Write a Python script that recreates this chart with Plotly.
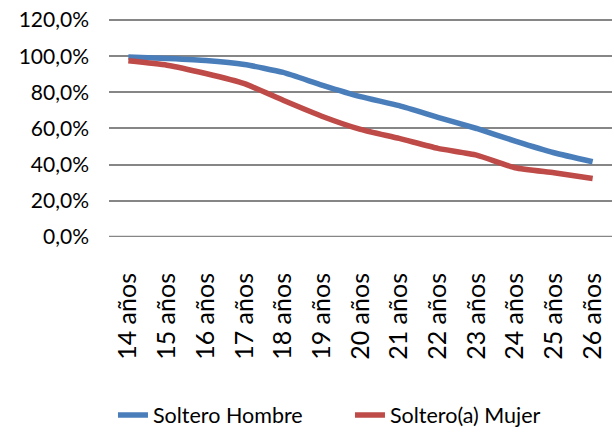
import plotly.graph_objects as go

categories = ["14 años", "15 años", "16 años", "17 años", "18 años", "19 años", "20 años",
              "21 años", "22 años", "23 años", "24 años", "25 años", "26 años"]
soltero_hombre = [99.6, 98.7, 97.6, 95.4, 91.0, 84.0, 77.6, 72.6, 66.2, 60.0, 53.0, 46.6, 41.6]
soltera_mujer = [97.4, 95.0, 90.4, 84.8, 75.6, 66.8, 59.5, 54.5, 49.0, 45.3, 38.3, 35.5, 32.4]
y_ticks = [0, 20, 40, 60, 80, 100, 120]
y_tick_labels = ["0,0%", "20,0%", "40,0%", "60,0%", "80,0%", "100,0%", "120,0%"]

FONT = "Lato"

fig = go.Figure()
fig.add_trace(go.Scatter(x=categories, y=soltero_hombre, name="Soltero Hombre", mode="lines",
                         line=dict(color="#4A7EBB", width=5.5, shape="spline", smoothing=0.5)))
fig.add_trace(go.Scatter(x=categories, y=soltera_mujer, name="Soltero(a) Mujer", mode="lines",
                         line=dict(color="#BE4B48", width=5.5, shape="spline", smoothing=0.5)))

fig.update_layout(
    width=614, height=435,
    margin=dict(l=109, r=2, t=18, b=198, autoexpand=False),
    paper_bgcolor="white", plot_bgcolor="white",
    font=dict(family=FONT, size=21, color="#000000"),
    showlegend=True,
    legend=dict(orientation="h", xref="container", yref="container",
                x=0.184, y=0.046, xanchor="left", yanchor="middle",
                font=dict(family=FONT, size=21.5), entrywidth=192, itemwidth=30,
                bgcolor="rgba(0,0,0,0)"),
    xaxis=dict(type="category", tickangle=-90, showgrid=False, showline=False,
               ticks="", ticklabelstandoff=30, tickfont=dict(family=FONT, size=25),
               range=[-0.5, 12.5], zeroline=False, automargin=False),
    yaxis=dict(range=[0, 121.1], tickvals=y_ticks, ticktext=y_tick_labels,
               showgrid=True, gridcolor="#868686", gridwidth=2, zeroline=False,
               showline=False, ticks="", ticklabelstandoff=19, automargin=False,
               ticklabeloverflow="allow",
               tickfont=dict(family=FONT, size=21)),
)
fig.add_hline(y=0, line=dict(color="#868686", width=2.5), layer="below")

fig.write_html("out.html", config={"displayModeBar": False},
               post_script="document.body.style.margin='0';")
